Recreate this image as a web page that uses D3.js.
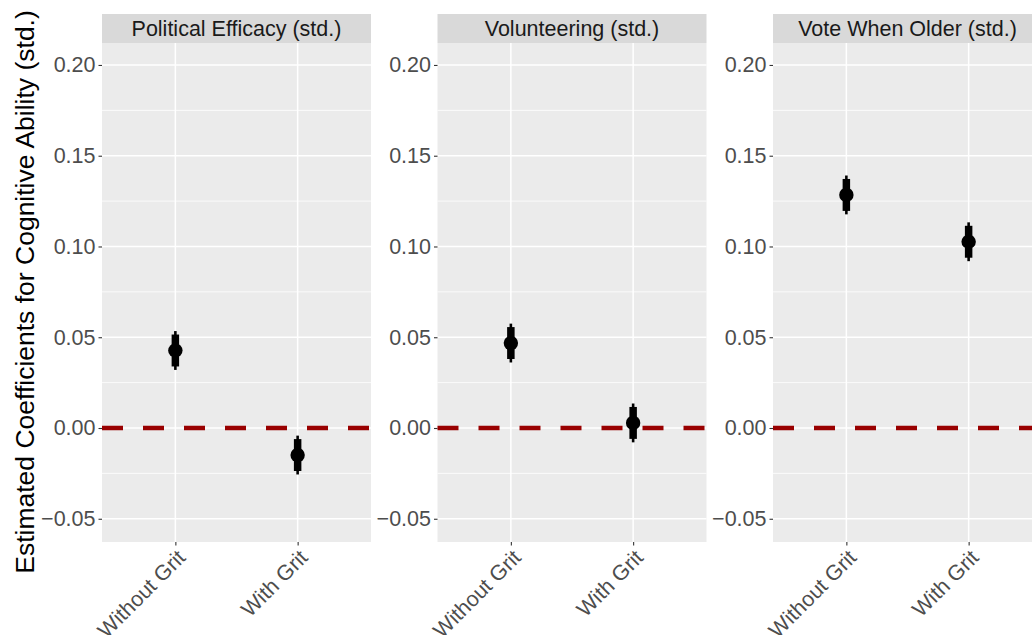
<!DOCTYPE html>
<html>
<head>
<meta charset="utf-8">
<script src="https://cdn.jsdelivr.net/npm/d3@7"></script>
<style>
  html, body { margin: 0; padding: 0; background: #ffffff; }
  svg { display: block; font-family: "Liberation Sans", Arial, Helvetica, sans-serif; }
</style>
</head>
<body>
<svg id="chart" width="1032" height="635"></svg>
<script>
// ---- data ----
const facets = ["Political Efficacy (std.)", "Volunteering (std.)", "Vote When Older (std.)"];
const models = ["Without Grit", "With Grit"];
// point estimates per facet: [Without Grit, With Grit]
const estimate = [[0.0427, -0.0149], [0.0468, 0.0028], [0.1284, 0.1026]];
// 95% intervals
const lower95 = [[0.0320, -0.0256], [0.0361, -0.0079], [0.1177, 0.0919]];
const upper95 = [[0.0534, -0.0042], [0.0575, 0.0135], [0.1391, 0.1133]];
// 90% intervals
const lower90 = [[0.0339, -0.0237], [0.0380, -0.0060], [0.1196, 0.0938]];
const upper90 = [[0.0515, -0.0061], [0.0556, 0.0116], [0.1372, 0.1114]];
const yTicks = [-0.05, 0.00, 0.05, 0.10, 0.15, 0.20];
const yMinor = [-0.025, 0.025, 0.075, 0.125, 0.175];
const refLine = 0;
const yTitle = "Estimated Coefficients for Cognitive Ability (std.)";

// ---- layout ----
const svg = d3.select("#chart");
const panelLefts = [102, 437.5, 773];
const panelW = 269;
const stripTop = 14, stripBot = 43, panelBot = 542;

const y = d3.scaleLinear().domain([-0.0628, 0.2121]).range([panelBot, stripBot]);

facets.forEach((f, i) => {
  const left = panelLefts[i];
  const x = d3.scalePoint().domain(models).range([left, left + panelW]).padding(0.6 / 0.5 * 0.5 + 0.1);
  // custom: discrete expansion 0.6 on each side
  const xs = d3.scaleLinear().domain([0.4, 2.6]).range([left, left + panelW]);
  const xpos = m => xs(models.indexOf(m) + 1);

  const g = svg.append("g");
  // strip
  g.append("rect").attr("x", left).attr("y", stripTop).attr("width", panelW).attr("height", stripBot - stripTop).attr("fill", "#d9d9d9");
  g.append("text").attr("x", left + panelW / 2).attr("y", (stripTop + stripBot) / 2).attr("dy", "0.36em")
    .attr("text-anchor", "middle").attr("font-size", 21.5).attr("fill", "#1a1a1a").text(f);
  // panel bg
  g.append("rect").attr("x", left).attr("y", stripBot).attr("width", panelW).attr("height", panelBot - stripBot).attr("fill", "#ebebeb");
  // minor grid
  g.selectAll(".minor").data(yMinor).enter().append("line")
    .attr("x1", left).attr("x2", left + panelW).attr("y1", d => y(d)).attr("y2", d => y(d))
    .attr("stroke", "#ffffff").attr("stroke-width", 0.8);
  // major grid
  g.selectAll(".major").data(yTicks).enter().append("line")
    .attr("x1", left).attr("x2", left + panelW).attr("y1", d => y(d)).attr("y2", d => y(d))
    .attr("stroke", "#ffffff").attr("stroke-width", 1.5);
  g.selectAll(".vmajor").data(models).enter().append("line")
    .attr("x1", d => xpos(d)).attr("x2", d => xpos(d)).attr("y1", stripBot).attr("y2", panelBot)
    .attr("stroke", "#ffffff").attr("stroke-width", 1.5);

  // y axis
  const ya = g.append("g").attr("transform", `translate(${left},0)`)
    .call(d3.axisLeft(y).tickValues(yTicks).tickSize(3.5).tickPadding(3).tickFormat(d => d3.format(".2f")(d).replace("-", "\u2212")));
  ya.select(".domain").remove();
  ya.selectAll(".tick line").attr("stroke", "#333333").attr("stroke-width", 1.1);
  ya.selectAll(".tick text").attr("font-size", 21.5).attr("fill", "#4d4d4d").attr("font-family", "Liberation Sans, Arial, sans-serif");

  // x axis
  const xa = g.append("g").attr("transform", `translate(0,${panelBot})`)
    .call(d3.axisBottom(xs).tickValues([1, 2]).tickSize(3.5).tickFormat(d => models[d - 1]));
  xa.select(".domain").remove();
  xa.selectAll(".tick line").attr("stroke", "#333333").attr("stroke-width", 1.1);
  xa.selectAll(".tick text")
    .attr("font-size", 21.5).attr("fill", "#4d4d4d").attr("font-family", "Liberation Sans, Arial, sans-serif")
    .attr("text-anchor", "end").attr("dy", "0.72em").attr("y", 6)
    .attr("transform", "translate(0,0)")
    .each(function () {
      d3.select(this).attr("transform", "rotate(-45 0 6)");
    });

  // reference line
  g.append("line").attr("x1", left).attr("x2", left + panelW).attr("y1", y(refLine)).attr("y2", y(refLine))
    .attr("stroke", "#990000").attr("stroke-width", 4.6).attr("stroke-dasharray", "21,20");

  // estimates
  const pts = models.map((m, j) => ({ m, est: estimate[i][j], l95: lower95[i][j], u95: upper95[i][j], l90: lower90[i][j], u90: upper90[i][j] }));
  g.selectAll(".ci95").data(pts).enter().append("line")
    .attr("x1", d => xpos(d.m)).attr("x2", d => xpos(d.m)).attr("y1", d => y(d.l95)).attr("y2", d => y(d.u95))
    .attr("stroke", "#000").attr("stroke-width", 2.6);
  g.selectAll(".ci90").data(pts).enter().append("line")
    .attr("x1", d => xpos(d.m)).attr("x2", d => xpos(d.m)).attr("y1", d => y(d.l90)).attr("y2", d => y(d.u90))
    .attr("stroke", "#000").attr("stroke-width", 7.5);
  g.selectAll(".pt").data(pts).enter().append("circle")
    .attr("cx", d => xpos(d.m)).attr("cy", d => y(d.est)).attr("r", 7.2).attr("fill", "#000");
});

// y title
svg.append("text").attr("transform", "translate(34,292) rotate(-90)")
  .attr("text-anchor", "middle").attr("font-size", 26.5).attr("fill", "#000").text(yTitle);
</script>
</body>
</html>
